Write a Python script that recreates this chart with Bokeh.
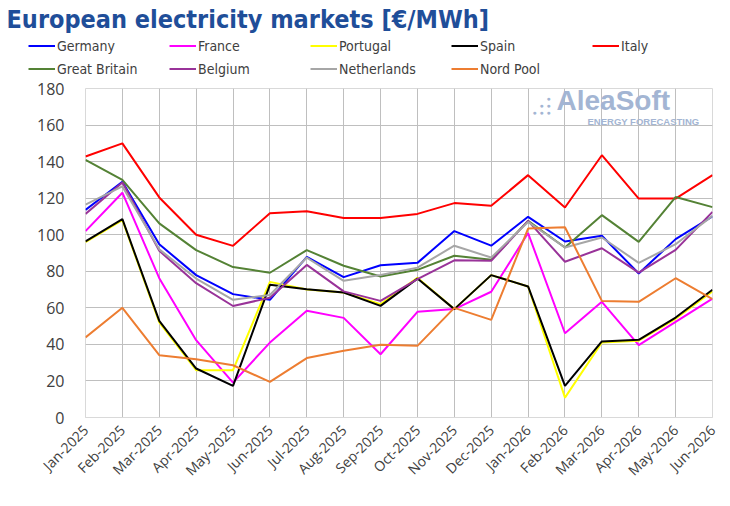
import math
from bokeh.plotting import figure
from bokeh.layouts import column, row
from bokeh.models import (Range1d, FixedTicker, Legend, LegendItem, Label)
from bokeh.embed import file_html
from bokeh.resources import INLINE

months = ["Jan-2025", "Feb-2025", "Mar-2025", "Apr-2025", "May-2025", "Jun-2025",
          "Jul-2025", "Aug-2025", "Sep-2025", "Oct-2025", "Nov-2025", "Dec-2025",
          "Jan-2026", "Feb-2026", "Mar-2026", "Apr-2026", "May-2026", "Jun-2026"]

germany = [113.6, 129.0, 94.8, 77.9, 67.5, 64.4, 87.9, 76.8, 83.3, 84.6, 102.0, 94.0,
           109.8, 96.3, 99.4, 78.8, 97.6, 110.0]
france = [102.0, 123.0, 76.2, 42.3, 19.1, 41.0, 58.4, 54.5, 34.6, 57.8, 59.3, 68.8,
          100.9, 46.1, 63.3, 39.6, 52.3, 65.1]
portugal = [96.0, 108.0, 52.0, 25.9, 25.9, 74.2, 70.0, 68.4, 62.0, 76.4, 59.3, 77.9,
            71.7, 10.9, 41.0, 42.0, 54.0, 69.0]
spain = [96.3, 108.5, 52.9, 26.8, 17.3, 72.6, 70.2, 68.4, 61.1, 76.0, 59.3, 77.9,
         71.7, 17.3, 41.6, 42.5, 54.7, 69.9]
italy = [142.8, 150.0, 120.4, 100.0, 93.9, 111.8, 112.9, 109.2, 109.2, 111.4, 117.3, 115.8,
         132.6, 114.9, 143.5, 119.8, 119.8, 132.6]
great_britain = [141.0, 130.0, 106.2, 91.6, 82.3, 79.2, 91.6, 83.0, 77.1, 80.8, 88.5, 86.3,
                 107.6, 93.0, 110.7, 96.1, 120.6, 115.1]
belgium = [111.4, 128.6, 91.2, 73.5, 61.0, 65.5, 83.5, 69.0, 63.8, 75.7, 86.0, 85.7,
           107.6, 85.2, 92.6, 79.3, 91.7, 112.5]
netherlands = [116.5, 126.4, 92.0, 76.0, 64.4, 67.0, 87.5, 74.8, 78.0, 82.0, 94.0, 87.5,
               107.0, 93.0, 98.5, 84.6, 94.8, 110.3]
nord_pool = [43.8, 60.0, 34.1, 31.9, 28.6, 19.5, 32.5, 36.5, 39.8, 39.2, 60.0, 53.4,
             103.4, 104.1, 63.8, 63.3, 76.2, 64.7]

series_names = ["Germany", "France", "Portugal", "Spain", "Italy",
                "Great Britain", "Belgium", "Netherlands", "Nord Pool"]
series_values = [germany, france, portugal, spain, italy,
                 great_britain, belgium, netherlands, nord_pool]
series_colors = ["#0000FF", "#FF00FF", "#FFFF00", "#000000", "#FF0000",
                 "#548235", "#993399", "#A6A6A6", "#ED7D31"]
y_ticks = [0, 20, 40, 60, 80, 100, 120, 140, 160, 180]
title_text = "European electricity markets [€/MWh]"

x = list(range(len(months)))

# ---------- header: title + legend ----------
header = figure(width=722, height=77, output_backend="svg", toolbar_location=None,
                x_axis_type=None, y_axis_type=None,
                x_range=Range1d(0, len(months) - 1), y_range=Range1d(1000, 1001),
                min_border_left=0, min_border_right=0, min_border_top=0, min_border_bottom=0)
header.outline_line_color = None
header.add_layout(Label(x=6, y=58, x_units="screen", y_units="screen", text=title_text,
                        text_font="DejaVu Sans Condensed", text_font_style="bold",
                        text_font_size="25px", text_color="#1F4E99",
                        text_baseline="alphabetic"))

# legend-only renderers (the series drawn outside the header's visible range)
legend_renderers = [header.line(x, vals, line_color=c, line_width=2)
                    for vals, c in zip(series_values, series_colors)]


def make_legend(idx, loc):
    return Legend(items=[LegendItem(label=series_names[i], renderers=[legend_renderers[i]])
                         for i in idx],
                  orientation="horizontal", location=loc,
                  glyph_width=27, glyph_height=23, label_height=23, label_width=112,
                  label_standoff=2, spacing=0, padding=0, margin=0,
                  label_text_font="DejaVu Sans Condensed", label_text_font_size="14px",
                  label_text_color="#404040", border_line_color=None,
                  background_fill_alpha=0)


header.add_layout(make_legend([0, 1, 2, 3, 4], (28, 20)), "center")
header.add_layout(make_legend([5, 6, 7, 8], (28, -3)), "center")

# ---------- main chart ----------
p = figure(width=722, height=420, output_backend="svg", toolbar_location=None,
           x_range=Range1d(0, len(months) - 1), y_range=Range1d(0, 180),
           min_border_left=85, min_border_right=10, min_border_top=11, min_border_bottom=80)

for vals, col in zip(series_values, series_colors):
    p.line(x, vals, line_color=col, line_width=2)

p.xaxis.ticker = FixedTicker(ticks=x)
p.xaxis.major_label_overrides = {i: m for i, m in zip(x, months)}
p.xaxis.major_label_orientation = math.pi / 4
p.xaxis.major_label_text_font = "Open Sans"
p.xaxis.major_label_text_font_size = "14px"
p.xaxis.major_label_text_color = "#404040"
p.xaxis.axis_line_color = "#D9D9D9"
p.xaxis.major_tick_line_color = None
p.xaxis.minor_tick_line_color = None
p.xaxis.major_label_standoff = 4

p.yaxis.ticker = FixedTicker(ticks=y_ticks)
p.yaxis.major_label_text_font = "Open Sans"
p.yaxis.major_label_text_font_size = "16px"
p.yaxis.major_label_text_color = "#404040"
p.yaxis.axis_line_color = None
p.yaxis.major_tick_line_color = None
p.yaxis.minor_tick_line_color = None
p.yaxis.major_label_standoff = 15

p.xgrid.grid_line_color = "#BFBFBF"
p.ygrid.grid_line_color = "#BFBFBF"
p.outline_line_color = "#D9D9D9"

# watermark
wm_color = "#A3B5D3"
p.add_layout(Label(x=471, y=302, x_units="screen", y_units="screen", text="AleaSoft",
                   text_font="Liberation Sans", text_font_style="bold",
                   text_font_size="28px", text_color=wm_color))
p.add_layout(Label(x=502, y=291, x_units="screen", y_units="screen",
                   text="ENERGY FORECASTING", text_font="Liberation Sans",
                   text_font_style="bold", text_font_size="9.5px", text_color=wm_color))
for dx, dy in [(449, 305), (456, 305), (456, 312), (463, 305), (463, 312), (463, 319)]:
    p.add_layout(Label(x=dx, y=dy, x_units="screen", y_units="screen", text="●",
                       text_font_size="7px", text_color=wm_color,
                       text_align="center", text_baseline="middle"))

open("out.html", "w").write(file_html(column(row(header), p, spacing=0), INLINE))
